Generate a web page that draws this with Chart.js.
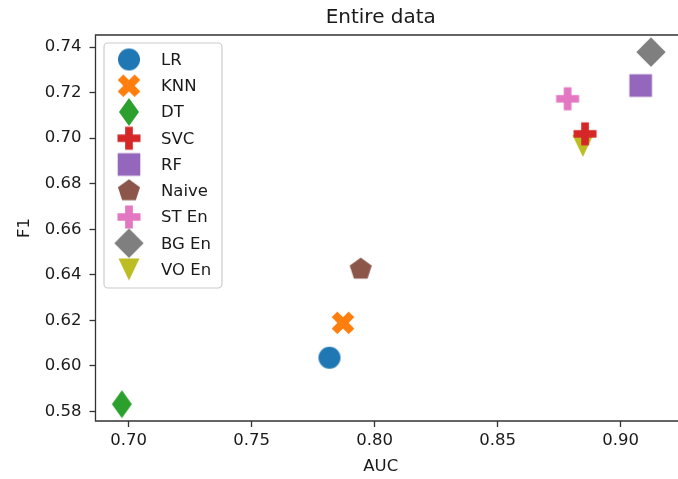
<!DOCTYPE html>
<html lang="en">
<head>
    <meta charset="UTF-8">
    <title>Entire data</title>
    <script src="https://cdn.jsdelivr.net/npm/chart.js"></script>
    <style>
        html, body { margin: 0; padding: 0; overflow: hidden; background: #fff; }
        canvas { display: block; }
    </style>
</head>
<body>
    <canvas id="scatterChart" width="678" height="479"></canvas>

    <script>
        // data
        const models = ['LR', 'KNN', 'DT', 'SVC', 'RF', 'Naive', 'ST En', 'BG En', 'VO En'];
        const aucValues = [0.7816, 0.7871, 0.6972, 0.8855, 0.9081, 0.7943, 0.8784, 0.9123, 0.8846];
        const f1Values = [0.6036, 0.6189, 0.5832, 0.7019, 0.7231, 0.6425, 0.7173, 0.7378, 0.6966];
        const colors = ['#1f77b4', '#ff7f0e', '#2ca02c', '#d62728', '#9467bd', '#8c564b', '#e377c2', '#7f7f7f', '#bcbd22'];
        const shapes = ['circle', 'x', 'thinDiamond', 'plus', 'square', 'pentagon', 'plus', 'diamond', 'triangleDown'];
        const xTicks = [0.70, 0.75, 0.80, 0.85, 0.90];
        const yTicks = [0.58, 0.60, 0.62, 0.64, 0.66, 0.68, 0.70, 0.72, 0.74];

        const FONT = 'DejaVu Sans';

        // small canvases used as point styles (matplotlib like filled markers)
        function makeMarker(shape, color) {
            const c = document.createElement('canvas');
            c.width = 32; c.height = 32;
            const g = c.getContext('2d');
            g.translate(16, 16);
            g.fillStyle = color;
            g.beginPath();
            if (shape === 'circle') {
                g.arc(0, 0, 11, 0, Math.PI * 2);
            } else if (shape === 'square') {
                g.rect(-11.3, -11.3, 22.6, 22.6);
            } else if (shape === 'diamond') {
                g.moveTo(0, -14.7); g.lineTo(14.7, 0); g.lineTo(0, 14.7); g.lineTo(-14.7, 0);
            } else if (shape === 'thinDiamond') {
                g.moveTo(0, -14); g.lineTo(10, 0); g.lineTo(0, 14); g.lineTo(-10, 0);
            } else if (shape === 'triangleDown') {
                g.moveTo(-10.5, -11); g.lineTo(10.5, -11); g.lineTo(0, 11);
            } else if (shape === 'pentagon') {
                for (let i = 0; i < 5; i++) {
                    const a = -Math.PI / 2 + i * 2 * Math.PI / 5;
                    g.lineTo(11.6 * Math.cos(a), 11.6 * Math.sin(a));
                }
            } else if (shape === 'plus' || shape === 'x') {
                const a = shape === 'plus' ? 11.5 : 12, w = a / 3;
                if (shape === 'x') g.rotate(Math.PI / 4);
                const pts = [[-w, -a], [w, -a], [w, -w], [a, -w], [a, w], [w, w], [w, a], [-w, a], [-w, w], [-a, w], [-a, -w], [-w, -w]];
                pts.forEach(p => g.lineTo(p[0], p[1]));
            }
            g.closePath();
            g.fill();
            return c;
        }

        const markers = models.map((m, i) => makeMarker(shapes[i], colors[i]));

        const datasets = models.map((m, i) => ({
            label: m,
            data: [{ x: aucValues[i], y: f1Values[i] }],
            pointStyle: markers[i],
            pointRadius: 11,
            backgroundColor: colors[i],
            borderColor: colors[i]
        }));

        // left, bottom and top spines (the right one is cut off in the picture)
        const framePlugin = {
            id: 'frame',
            afterDatasetsDraw(chart) {
                const a = chart.chartArea, ctx = chart.ctx;
                ctx.save();
                ctx.strokeStyle = '#333';
                ctx.lineWidth = 1.3;
                ctx.beginPath();
                ctx.moveTo(chart.width, a.top);
                ctx.lineTo(a.left, a.top);
                ctx.lineTo(a.left, a.bottom);
                ctx.lineTo(chart.width, a.bottom);
                ctx.stroke();
                ctx.restore();
            }
        };

        // legend box in upper left corner of the axes
        const legendPlugin = {
            id: 'boxLegend',
            afterDraw(chart) {
                const a = chart.chartArea, ctx = chart.ctx;
                const left = a.left + 8.5, top = a.top + 8, w = 118, h = 245, r = 4;
                const rowH = 26.25;
                ctx.save();
                ctx.beginPath();
                ctx.roundRect(left, top, w, h, r);
                ctx.fillStyle = 'rgba(255,255,255,0.8)';
                ctx.fill();
                ctx.strokeStyle = '#cccccc';
                ctx.lineWidth = 1.2;
                ctx.stroke();
                ctx.font = '16.5px "' + FONT + '"';
                ctx.fillStyle = '#1a1a1a';
                ctx.textBaseline = 'middle';
                chart.data.datasets.forEach((ds, i) => {
                    const cy = top + 16.5 + i * rowH;
                    const img = ds.pointStyle;
                    ctx.drawImage(img, left + 25 - img.width / 2, cy - img.height / 2);
                    ctx.fillText(ds.label, left + 57, cy + 1);
                });
                ctx.restore();
            }
        };

        const tickFont = { family: FONT, size: 16.5 };

        new Chart(document.getElementById('scatterChart'), {
            type: 'scatter',
            data: { datasets: datasets },
            options: {
                responsive: false,
                animation: false,
                devicePixelRatio: 1,
                layout: { padding: 0 },
                plugins: {
                    legend: { display: false },
                    tooltip: { enabled: false },
                    title: {
                        display: true,
                        text: 'Entire data',
                        fullSize: false,
                        color: '#1a1a1a',
                        font: { family: FONT, size: 20, weight: 'normal' },
                        padding: { top: 6, bottom: 5 }
                    }
                },
                scales: {
                    x: {
                        type: 'linear',
                        min: 0.6865,
                        max: 0.9184,
                        afterBuildTicks: s => { s.ticks = xTicks.map(v => ({ value: v })); },
                        afterFit: s => { s.height = 58; },
                        grid: { drawOnChartArea: false, drawTicks: true, tickLength: 6, tickColor: '#333', tickWidth: 1.3 },
                        border: { display: false },
                        ticks: { font: tickFont, color: '#1a1a1a', padding: 4, maxRotation: 0, callback: v => v.toFixed(2) },
                        title: { display: true, text: 'AUC', color: '#1a1a1a', font: tickFont, padding: { top: 0, bottom: 2 } }
                    },
                    y: {
                        type: 'linear',
                        min: 0.5758,
                        max: 0.7453,
                        afterBuildTicks: s => { s.ticks = yTicks.map(v => ({ value: v })); },
                        afterFit: s => { s.width = 95.5; },
                        grid: { drawOnChartArea: false, drawTicks: true, tickLength: 6, tickColor: '#333', tickWidth: 1.3 },
                        border: { display: false },
                        ticks: { font: tickFont, color: '#1a1a1a', padding: 8, callback: v => v.toFixed(2) },
                        title: { display: true, text: 'F1', color: '#1a1a1a', font: tickFont, padding: { top: 15, bottom: 0 } }
                    }
                }
            },
            plugins: [framePlugin, legendPlugin]
        });
    </script>
</body>
</html>
